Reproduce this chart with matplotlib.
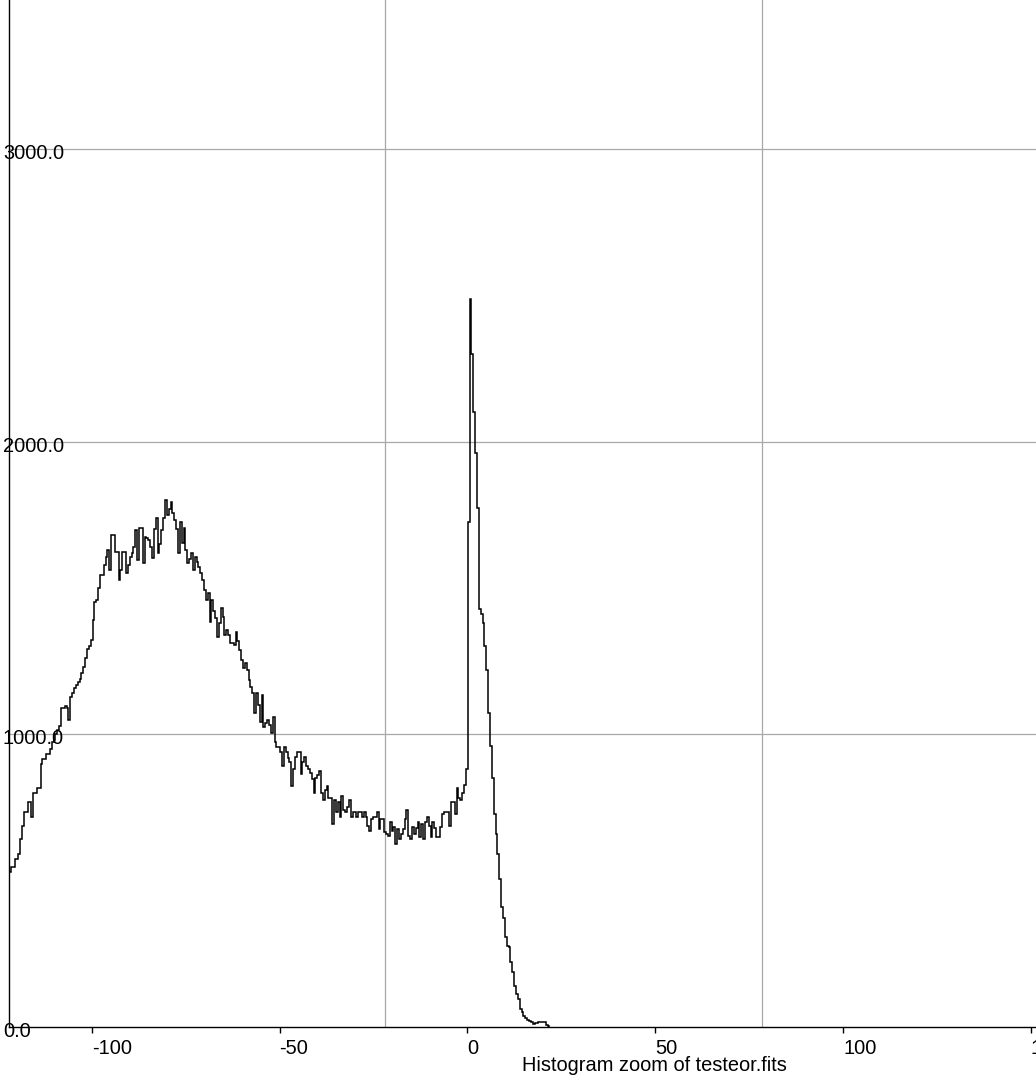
import numpy as np
import matplotlib
matplotlib.use("Agg")
import matplotlib.pyplot as plt
import matplotlib.transforms as mtransforms

plt.rcParams['font.family'] = ['Liberation Sans', 'DejaVu Sans']

# ---- data ----
bin_start = -122.0
bin_width = 0.4943
counts = [
    528, 545, 545, 573, 573, 590, 641, 685, 733, 733,
    770, 770, 719, 801, 801, 818, 818, 897, 914, 914,
    931, 931, 950, 972, 980, 1000, 1016, 1030, 1091, 1091,
    1095, 1091, 1050, 1129, 1140, 1159, 1170, 1180, 1190, 1210,
    1230, 1260, 1290, 1300, 1323, 1391, 1452, 1459, 1500, 1545,
    1545, 1579, 1606, 1630, 1561, 1681, 1681, 1623, 1623, 1527,
    1560, 1623, 1623, 1551, 1580, 1606, 1620, 1640, 1698, 1596,
    1705, 1705, 1585, 1674, 1670, 1664, 1640, 1602, 1700, 1739,
    1619, 1650, 1698, 1740, 1800, 1749, 1770, 1793, 1756, 1732,
    1700, 1619, 1725, 1654, 1705, 1630, 1585, 1600, 1619, 1561,
    1606, 1590, 1572, 1550, 1527, 1493, 1459, 1483, 1384, 1459,
    1420, 1398, 1333, 1380, 1432, 1400, 1340, 1357, 1340, 1313,
    1313, 1306, 1350, 1320, 1289, 1255, 1227, 1244, 1220, 1187,
    1160, 1142, 1074, 1142, 1100, 1043, 1135, 1026, 1040, 1050,
    1033, 1006, 1060, 972, 955, 955, 938, 890, 955, 941,
    920, 904, 822, 880, 921, 941, 941, 863, 904, 921,
    890, 880, 869, 846, 801, 852, 860, 873, 801, 777,
    811, 822, 784, 784, 692, 777, 733, 767, 716, 788,
    743, 736, 753, 777, 719, 736, 736, 719, 736, 736,
    719, 733, 716, 685, 668, 709, 719, 719, 736, 675,
    709, 709, 665, 658, 651, 699, 668, 682, 624, 675,
    641, 660, 675, 709, 743, 651, 641, 682, 658, 680,
    699, 648, 692, 641, 702, 719, 685, 648, 702, 680,
    648, 648, 682, 726, 733, 733, 736, 685, 767, 770,
    726, 818, 784, 777, 800, 828, 880, 1725, 2486, 2300,
    2100, 1960, 1773, 1429, 1412, 1380, 1300, 1221, 1074, 960,
    850, 726, 658, 590, 505, 410, 372, 307, 276, 273,
    222, 188, 140, 113, 95, 61, 51, 38, 31, 25,
    20, 17, 10, 14, 14, 17, 17, 17, 17, 7,
    3,
]
x_ticks = [-100, -50, 0, 50, 100, 150]
x_tick_labels = ["-100", "-50", "0", "50", "100", "150"]
y_ticks = [0, 1000, 2000, 3000]
y_tick_labels = ["0.0", "1000.0", "2000.0", "3000.0"]
v_grid = [-21.9, 78.4]
title = "Histogram zoom of testeor.fits"

edges = bin_start + bin_width * np.arange(len(counts) + 1)

W, H = 1036, 1076
FS = 14.4
fig = plt.figure(figsize=(W / 100, H / 100), dpi=100)
ax = fig.add_axes([9 / W, 49 / H, 1027 / W, 1027 / H])
ax.set_xlim(-122.0, 151.35)
ax.set_ylim(0, 3508.7)

for s in ("top", "right"):
    ax.spines[s].set_visible(False)
for s in ("left", "bottom"):
    ax.spines[s].set_color("black")
    ax.spines[s].set_linewidth(1.0)

grid_color = "#a8a8a8"
for yv in y_ticks[1:]:
    ax.axhline(yv, color=grid_color, lw=0.9, zorder=1)
for xv in v_grid:
    ax.axvline(xv, color=grid_color, lw=0.9, zorder=1)

ax.stairs(counts, edges, color="black", lw=1.1, zorder=3, baseline=0)

ax.set_xticks(x_ticks)
ax.set_xticklabels(x_tick_labels, ha="left")
ax.tick_params(axis="x", direction="out", length=4.6, width=1, labelsize=FS, pad=3.8,
               colors="black")
ax.set_yticks([])

trans = mtransforms.blended_transform_factory(ax.transAxes, ax.transData)
for yv, lab in zip(y_ticks, y_tick_labels):
    ax.text(-6 / 1027, yv - 16, lab, transform=trans, ha="left", va="center",
            fontsize=FS, color="black", zorder=4, clip_on=False)

fig.text(521.7 / W, 1 - 1071 / H, title, ha="left", va="baseline", fontsize=FS,
         color="black")

fig.savefig("out.png", dpi=100)
